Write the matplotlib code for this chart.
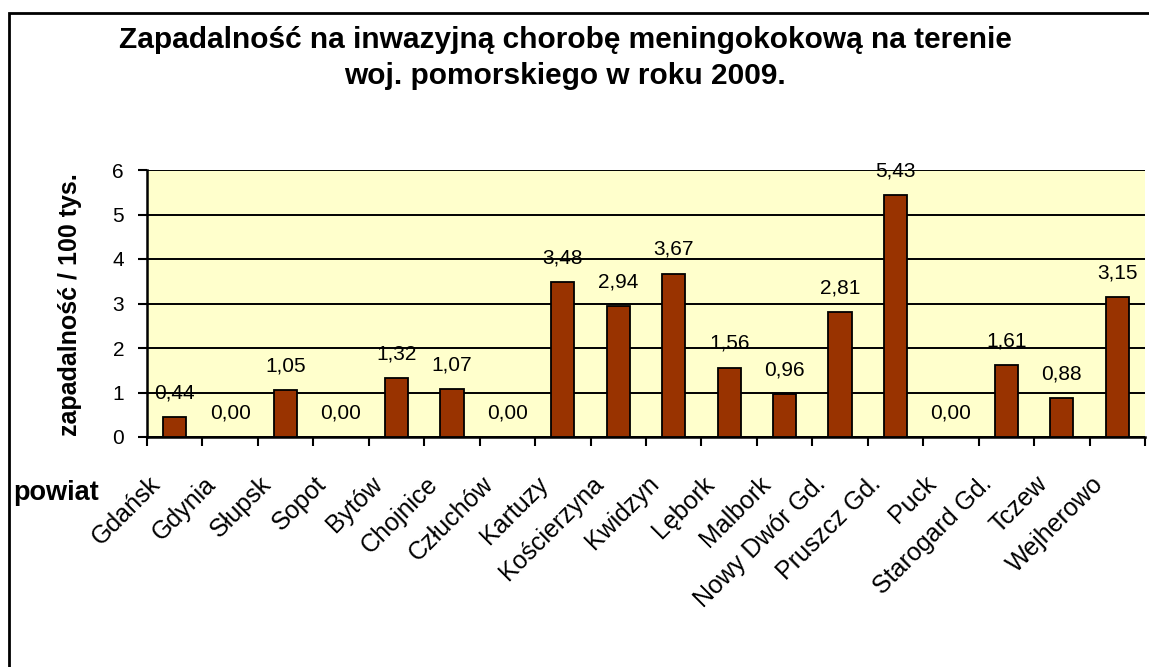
import numpy as np
import matplotlib.pyplot as plt
import matplotlib.transforms as mtransforms
from matplotlib.patches import Rectangle

plt.rcParams['font.family'] = ['Liberation Sans', 'DejaVu Sans']

# dane
powiaty = ["Gdańsk", "Gdynia", "Słupsk", "Sopot", "Bytów", "Chojnice", "Człuchów",
           "Kartuzy", "Kościerzyna", "Kwidzyn", "Lębork", "Malbork", "Nowy Dwór Gd.",
           "Pruszcz Gd.", "Puck", "Starogard Gd.", "Tczew", "Wejherowo"]
zapadalnosc = [0.44, 0.00, 1.05, 0.00, 1.32, 1.07, 0.00, 3.48, 2.94, 3.67, 1.56,
               0.96, 2.81, 5.43, 0.00, 1.61, 0.88, 3.15]
y_ticks = [0, 1, 2, 3, 4, 5, 6]

fig = plt.figure(figsize=(11.49, 6.67), dpi=100)
ax = fig.add_axes([147 / 1149, 1 - 437 / 667, (1145 - 147) / 1149, (437 - 170) / 667])
ax.set_facecolor("#FFFFCC")

x = np.arange(len(powiaty))
ax.bar(x, zapadalnosc, width=0.42, color="#993300", edgecolor="black", linewidth=1.3, zorder=3)

for xi, v in zip(x, zapadalnosc):
    ax.annotate(("%.2f" % v).replace(".", ","), (xi, v), xytext=(0, 17.5), textcoords="offset points",
                ha="center", va="center", fontsize=15, zorder=4)

ax.set_xlim(-0.5, len(powiaty) - 0.5)
ax.set_ylim(0, 6)
ax.set_yticks(y_ticks)
ax.set_yticklabels([str(t) for t in y_ticks], fontsize=15)
ax.yaxis.grid(True, color="black", linewidth=1.4, zorder=1)
ax.set_axisbelow(True)

# ticks na granicach kategorii
ax.set_xticks(np.arange(-0.5, len(powiaty), 1.0))
ax.set_xticklabels([])
ax.set_xticks(x, minor=True)
ax.set_xticklabels(powiaty, minor=True, rotation=45, ha="right", fontsize=18)
ax.tick_params(axis="x", which="minor", length=0, pad=25)
ax.tick_params(axis="x", which="major", length=6.5, width=1.5, direction="out")
ax.tick_params(axis="y", length=6.5, width=1.5, direction="out", pad=10)
shift = mtransforms.ScaledTranslation(-7 / 72, 0, fig.dpi_scale_trans)
for lab in ax.get_xticklabels(minor=True):
    lab.set_transform(lab.get_transform() + shift)

for s in ["top", "right"]:
    ax.spines[s].set_visible(False)
ax.spines["left"].set_linewidth(1.8)
ax.spines["bottom"].set_linewidth(1.8)

fig.text(565 / 1149, 1 - 58 / 667,
         "Zapadalność na inwazyjną chorobę meningokokową na terenie\nwoj. pomorskiego w roku 2009.",
         ha="center", va="center", fontsize=21.5, fontweight="bold", linespacing=1.4)
fig.text(70 / 1149, 1 - 305 / 667, "zapadalność / 100 tys.", rotation=90,
         ha="center", va="center", fontsize=18, fontweight="bold")
fig.text(13 / 1149, 1 - 493 / 667, "powiat", ha="left", va="center", fontsize=19.5, fontweight="bold")

# ramka wykresu
fig.patches.append(Rectangle((9 / 1149, -0.1), 1.2, 1 - 13 / 667 + 0.1, transform=fig.transFigure,
                             fill=False, edgecolor="black", linewidth=2, clip_on=False))

fig.savefig("out.png", dpi=100)
